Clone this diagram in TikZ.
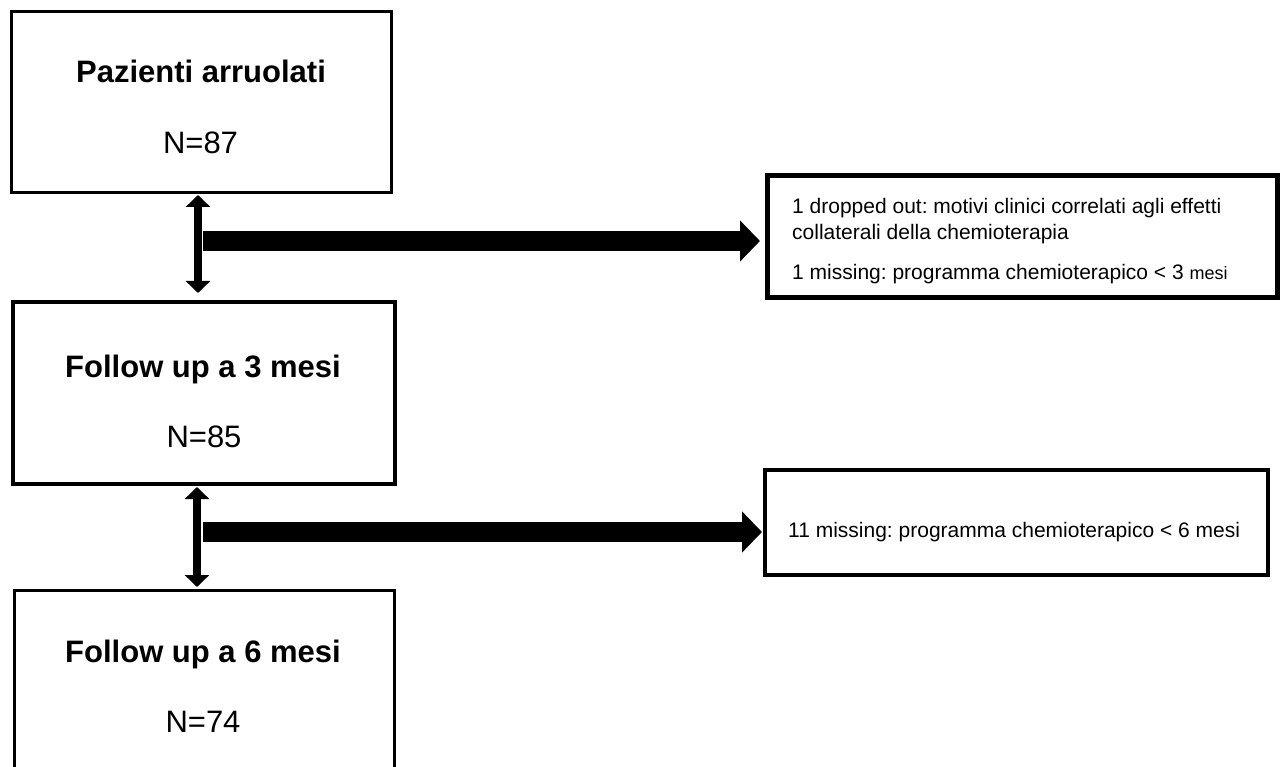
\documentclass[tikz,border=0pt]{standalone}
\usepackage{fontspec}
\setmainfont{Liberation Sans}
\frenchspacing
\usetikzlibrary{arrows.meta,positioning,calc}
\tikzset{
  scatola/.style={draw,line width=3pt,inner sep=0pt,outer sep=0pt},
  nota/.style={draw,line width=4.5pt,inner sep=0pt,outer sep=0pt},
  titolo/.style={anchor=base,inner sep=0pt,font=\fontsize{31}{37}\selectfont\bfseries},
  numero/.style={anchor=base,inner sep=0pt,font=\fontsize{31}{37}\selectfont},
  testo/.style={anchor=base west,inner sep=0pt,align=left,font=\fontsize{21}{26.6}\selectfont},
  fdoppia/.style={{Triangle[width=24pt,length=12pt]}-{Triangle[width=24pt,length=12pt]},line width=8pt},
  fgrossa/.style={-{Triangle[width=40pt,length=20pt]},line width=20pt},
}
\begin{document}
\begin{tikzpicture}[x=1pt,y=-1pt]
  \useasboundingbox (0,0) rectangle (1286,767);
  \clip (0,0) rectangle (1286,767);
  % box principali
  \node[scatola,minimum width=380pt,minimum height=181pt] (A) at (201.5,102) {};
  \node[scatola,line width=4pt,minimum width=382pt,minimum height=182pt] (B) at (204,393) {};
  \node[scatola,minimum width=380pt,minimum height=181pt] (C) at (204,681) {};
  \node[titolo] at (201,83) {Pazienti arruolati};
  \node[numero] at (200.5,154) {N=87};
  \node[titolo] at (203,378) {Follow up a 3 mesi};
  \node[numero] at (204,447) {N=85};
  \node[titolo] at (203,662) {Follow up a 6 mesi};
  \node[numero] at (203,732) {N=74};
  % box laterali
  \node[nota,line width=5pt,minimum width=510pt,minimum height=122pt] (R1) at (1022,237) {};
  \node[nota,minimum width=503pt,minimum height=105pt] (R2) at (1016.5,522.5) {};
  \node[testo] (T1) at (792,280) {1 dropped out: motivi clinici correlati agli effetti\\
    collaterali della chemioterapia\\[13.4pt]
    1 missing: programma chemioterapico < 3 {\fontsize{18}{22}\selectfont mesi}};
  \node[testo] (T2) at (788,537) {11 missing: programma chemioterapico < 6 mesi};
  % frecce
  \coordinate (g1) at (198,241);
  \coordinate (g2) at (197,532);
  \draw[fdoppia,shorten <=2.5pt,shorten >=9pt] ([xshift=-3.5pt]A.south) -- ([xshift=-6pt]B.north);
  \draw[fdoppia,shorten <=3pt,shorten >=3.5pt] ([xshift=-7pt]B.south) -- ([xshift=-7pt]C.north);
  \draw[fgrossa,shorten >=7pt] ([xshift=5pt]g1) -- (g1 -| R1.west);
  \draw[fgrossa,shorten >=3pt] ([xshift=6pt]g2) -- (g2 -| R2.west);
\end{tikzpicture}
\end{document}
